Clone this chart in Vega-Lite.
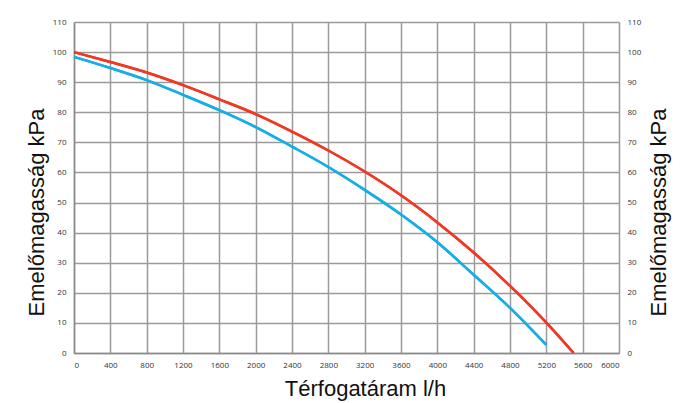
{
  "$schema": "https://vega.github.io/schema/vega-lite/v6.json",
  "width": 545,
  "height": 331,
  "autosize": {"type": "none"},
  "padding": {"left": 74, "top": 22, "right": 62, "bottom": 50},
  "background": "white",
  "config": {
    "view": {"stroke": null},
    "axis": {
      "labelFont": "Open Sans",
      "labelFontSize": 8,
      "labelColor": "#333333",
      "titleFont": "Liberation Sans",
      "titleFontSize": 22,
      "titleFontWeight": "normal",
      "titleColor": "#111111",
      "ticks": false,
      "gridColor": "#9a9a9a",
      "gridWidth": 1.5,
      "gridOpacity": 1,
      "domainColor": "#8a8a8a",
      "domainWidth": 1.5
    }
  },
  "data": {
    "values": [
      {"flow": 0, "head": 100, "series": "red"},
      {"flow": 400, "head": 96.7, "series": "red"},
      {"flow": 800, "head": 93.2, "series": "red"},
      {"flow": 1200, "head": 89, "series": "red"},
      {"flow": 1600, "head": 84.3, "series": "red"},
      {"flow": 2000, "head": 79.4, "series": "red"},
      {"flow": 2400, "head": 73.6, "series": "red"},
      {"flow": 2800, "head": 67.3, "series": "red"},
      {"flow": 3200, "head": 60.3, "series": "red"},
      {"flow": 3600, "head": 52.4, "series": "red"},
      {"flow": 4000, "head": 43.4, "series": "red"},
      {"flow": 4400, "head": 33.4, "series": "red"},
      {"flow": 4800, "head": 22.3, "series": "red"},
      {"flow": 5200, "head": 10.1, "series": "red"},
      {"flow": 5500, "head": 0, "series": "red"},
      {"flow": 0, "head": 98.4, "series": "blue"},
      {"flow": 400, "head": 94.7, "series": "blue"},
      {"flow": 800, "head": 90.7, "series": "blue"},
      {"flow": 1200, "head": 85.8, "series": "blue"},
      {"flow": 1600, "head": 80.7, "series": "blue"},
      {"flow": 2000, "head": 75.1, "series": "blue"},
      {"flow": 2400, "head": 68.6, "series": "blue"},
      {"flow": 2800, "head": 61.8, "series": "blue"},
      {"flow": 3200, "head": 54.2, "series": "blue"},
      {"flow": 3600, "head": 46, "series": "blue"},
      {"flow": 4000, "head": 36.8, "series": "blue"},
      {"flow": 4400, "head": 26, "series": "blue"},
      {"flow": 4800, "head": 15, "series": "blue"},
      {"flow": 5200, "head": 2.7, "series": "blue"}
    ]
  },
  "encoding": {
    "x": {
      "field": "flow",
      "type": "quantitative",
      "scale": {"domain": [0, 6000], "nice": false},
      "axis": {
        "values": [0, 400, 800, 1200, 1600, 2000, 2400, 2800, 3200, 3600, 4000, 4400, 4800, 5200, 5600, 6000],
        "format": "d",
        "title": "Térfogatáram l/h",
        "labelPadding": 8,
        "titleX": 291,
        "titleY": 42,
        "titleBaseline": "alphabetic"
      }
    },
    "color": {
      "field": "series",
      "type": "nominal",
      "scale": {"domain": ["red", "blue"], "range": ["#ee3a24", "#15aee6"]},
      "legend": null
    }
  },
  "layer": [
    {
      "mark": {"type": "line", "interpolate": "monotone", "strokeWidth": 2.5},
      "encoding": {
        "y": {
          "field": "head",
          "type": "quantitative",
          "scale": {"domain": [0, 110], "nice": false},
          "axis": {
            "values": [0, 10, 20, 30, 40, 50, 60, 70, 80, 90, 100, 110],
            "title": "Emelőmagasság kPa",
            "labelPadding": 8,
            "titleAngle": -90,
            "titleX": -31,
            "titleY": 190,
            "titleBaseline": "alphabetic"
          }
        }
      }
    },
    {
      "mark": {"type": "line", "interpolate": "monotone", "strokeWidth": 2.5},
      "encoding": {
        "y": {
          "field": "head",
          "type": "quantitative",
          "scale": {"domain": [0, 110], "nice": false},
          "axis": {
            "orient": "right",
            "values": [0, 10, 20, 30, 40, 50, 60, 70, 80, 90, 100, 110],
            "grid": false,
            "domain": false,
            "title": "Emelőmagasság kPa",
            "labelPadding": 8,
            "titleAngle": -90,
            "titleX": 46,
            "titleY": 190,
            "titleBaseline": "alphabetic"
          }
        }
      }
    }
  ],
  "resolve": {"scale": {"y": "independent"}}
}
